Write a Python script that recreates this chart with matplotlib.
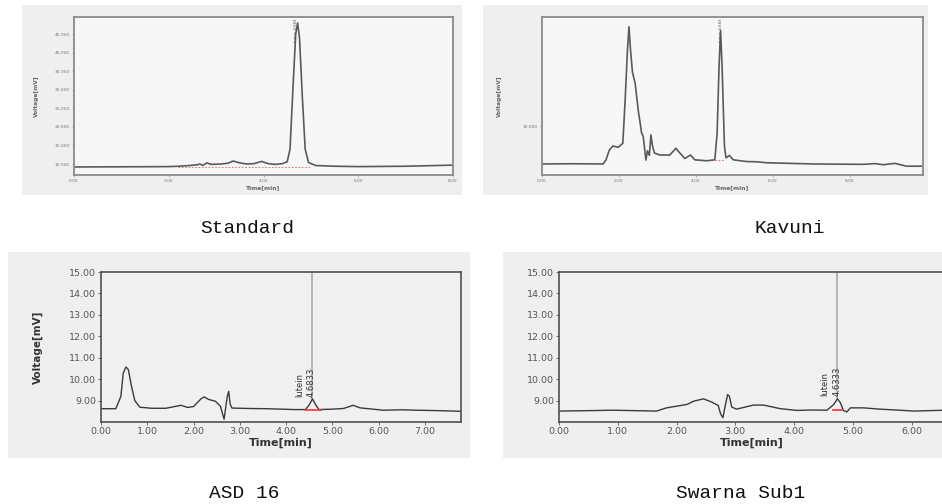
import matplotlib
matplotlib.use("Agg")
import matplotlib.pyplot as plt
from matplotlib.patches import Rectangle

# ---------------- data ----------------
std_time = [0.0, 1.0, 2.0, 2.2, 2.45, 2.6, 2.66, 2.72, 2.8, 2.9, 3.1, 3.25, 3.36, 3.5, 3.65,
            3.8, 3.96, 4.1, 4.25, 4.4, 4.5, 4.56, 4.62, 4.68, 4.72, 4.76, 4.82, 4.88, 4.95,
            5.1, 5.5, 6.0, 6.5, 7.0, 7.5, 8.0]
std_volt = [9.2, 9.25, 9.3, 9.4, 9.6, 9.8, 10.0, 9.6, 10.3, 9.9, 10.0, 10.2, 10.8, 10.3, 10.0,
            10.1, 10.7, 10.1, 9.9, 10.1, 10.6, 14.0, 30.0, 45.0, 48.0, 44.0, 28.0, 14.0, 10.4,
            9.6, 9.4, 9.3, 9.35, 9.4, 9.55, 9.7]
std_ticks = [10, 15, 20, 25, 30, 35, 40, 45]

kav_time = [0.0, 0.8, 1.59, 1.66, 1.75, 1.84, 1.98, 2.1, 2.16, 2.22, 2.26, 2.3, 2.35, 2.42,
            2.5, 2.59, 2.63, 2.68, 2.7, 2.74, 2.79, 2.83, 2.87, 2.92, 3.06, 3.32, 3.48, 3.58,
            3.71, 3.86, 3.97, 4.28, 4.49, 4.55, 4.6, 4.64, 4.68, 4.74, 4.78, 4.87, 4.97, 5.31,
            5.57, 5.84, 7.05, 8.35, 8.65, 8.87, 9.17, 9.47, 9.86]
kav_volt = [6.9, 6.92, 6.9, 7.22, 8.04, 8.37, 8.26, 8.59, 12.1, 16.2, 18.1, 16.2, 14.4, 13.5,
            11.3, 9.4, 9.15, 7.77, 7.22, 7.98, 7.6, 9.27, 8.4, 7.8, 7.63, 7.63, 8.18, 7.8,
            7.35, 7.63, 7.24, 7.16, 7.24, 9.4, 14.8, 17.8, 14.8, 8.4, 7.4, 7.6, 7.24, 7.1,
            7.08, 7.0, 6.9, 6.87, 6.93, 6.84, 6.95, 6.72, 6.72]
kav_ticks = [10]

asd_time = [0.0, 0.32, 0.43, 0.48, 0.54, 0.59, 0.66, 0.73, 0.84, 1.1, 1.4, 1.73, 1.87, 2.0,
            2.16, 2.23, 2.33, 2.47, 2.58, 2.63, 2.66, 2.69, 2.73, 2.76, 2.79, 2.83, 3.2, 3.59,
            3.9, 4.17, 4.42, 4.5, 4.57, 4.64, 4.71, 5.0, 5.24, 5.45, 5.6, 6.1, 6.5, 6.82, 7.3, 7.76]
asd_volt = [8.62, 8.62, 9.2, 10.28, 10.57, 10.45, 9.66, 9.0, 8.69, 8.64, 8.64, 8.78, 8.68, 8.72,
            9.08, 9.17, 9.05, 8.97, 8.74, 8.36, 8.13, 8.6, 9.2, 9.43, 8.85, 8.65, 8.63, 8.62,
            8.6, 8.58, 8.58, 8.8, 9.08, 8.8, 8.58, 8.6, 8.63, 8.78, 8.66, 8.55, 8.57, 8.55, 8.53, 8.5]

swa_time = [0.0, 0.5, 0.93, 1.3, 1.66, 1.83, 2.18, 2.29, 2.46, 2.6, 2.71, 2.75, 2.79, 2.83,
            2.87, 2.9, 2.94, 3.02, 3.31, 3.48, 3.77, 4.05, 4.3, 4.56, 4.67, 4.74, 4.79, 4.84,
            4.9, 4.96, 5.18, 5.46, 5.8, 6.04, 6.3, 6.55]
swa_volt = [8.51, 8.53, 8.55, 8.53, 8.51, 8.66, 8.82, 8.97, 9.08, 8.93, 8.77, 8.38, 8.2, 8.77,
            9.28, 9.2, 8.7, 8.6, 8.79, 8.79, 8.62, 8.54, 8.56, 8.55, 8.8, 9.08, 8.9, 8.54,
            8.47, 8.66, 8.66, 8.6, 8.55, 8.51, 8.53, 8.55]
bottom_ticks_y = [9, 10, 11, 12, 13, 14, 15]

captions = ["Standard", "Kavuni", "ASD 16", "Swarna Sub1"]
peak_name = "lutein"
asd_peak_label = "4.6833"
swa_peak_label = "4.6333"
asd_peak_t = 4.57
swa_peak_t = 4.74

# ---------------- figure ----------------
W, H = 942, 504
fig = plt.figure(figsize=(W / 100, H / 100), dpi=100)
fig.patch.set_facecolor("white")


def fx(px):
    return px / W


def fy(py):
    return 1 - py / H


def bg(x0, x1, y0, y1, color="#efefef"):
    fig.patches.append(Rectangle((fx(x0), fy(y1)), fx(x1) - fx(x0), fy(y0) - fy(y1),
                                 transform=fig.transFigure, facecolor=color,
                                 edgecolor="none", zorder=-10))


def add_axes(x0, x1, y0, y1):
    a = fig.add_axes([fx(x0), fy(y1), fx(x1) - fx(x0), fy(y0) - fy(y1)])
    a.set_zorder(5)
    return a


# backgrounds
bg(22, 462, 5, 195)
bg(483, 928, 5, 195)
bg(8, 470, 252, 458)
bg(503, 943, 252, 458)

# ---- Standard ----
ax1 = add_axes(74, 453, 17, 175)
ax1.set_facecolor("#f7f7f7")
ax1.plot(std_time, std_volt, color="#5a5a5a", lw=1.2)
ax1.plot([2.2, 5.0], [9.2, 9.2], color="#e06060", lw=0.6, ls=(0, (2, 2)))
ax1.set_xlim(0, 8)
ax1.set_ylim(7.04, 49.6)
ax1.set_xticks([0, 2, 4, 6, 8])
ax1.set_xticklabels(["0.00", "2.00", "4.00", "6.00", "8.00"])
ax1.set_yticks(std_ticks)
ax1.set_yticklabels([f"{v:.3f}" for v in std_ticks])
ax1.text(4.68, 49.2, peak_name + " 4.683", rotation=90, ha="center", va="top",
         fontsize=2.8, color="#555555")
ax1.set_ylabel("Voltage[mV]", fontsize=4.2, fontweight="bold", color="#666666", labelpad=11)
ax1.set_xlabel("Time[min]", fontsize=4.2, fontweight="bold", color="#666666", labelpad=1.5)

# ---- Kavuni ----
ax2 = add_axes(542, 923, 17, 175)
ax2.set_facecolor("#f7f7f7")
ax2.plot(kav_time, kav_volt, color="#5a5a5a", lw=1.2)
ax2.plot([4.5, 4.75], [7.2, 7.2], color="#e06060", lw=0.6, ls=(0, (2, 2)))
ax2.set_xlim(0, 9.9)
ax2.set_ylim(6.0, 18.9)
ax2.set_xticks([0, 2, 4, 6, 8])
ax2.set_xticklabels(["0.00", "2.00", "4.00", "6.00", "8.00"])
ax2.set_yticks(kav_ticks)
ax2.set_yticklabels(["10.000"])
ax2.text(4.64, 18.8, peak_name + " 4.683", rotation=90, ha="center", va="top",
         fontsize=2.8, color="#555555")
ax2.set_ylabel("Voltage[mV]", fontsize=4.2, fontweight="bold", color="#666666", labelpad=15)
ax2.set_xlabel("Time[min]", fontsize=4.2, fontweight="bold", color="#666666", labelpad=1.5)

for ax in (ax1, ax2):
    for s in ax.spines.values():
        s.set_color("#8a8a8a")
        s.set_linewidth(1.3)
    ax.tick_params(length=1.5, width=0.5, color="#999999", pad=1.5)
    for lab in ax.get_xticklabels() + ax.get_yticklabels():
        lab.set_fontsize(3.2)
        lab.set_color("#777777")

# ---- ASD 16 ----
ax3 = add_axes(101, 461, 272, 422)
ax3.set_facecolor("#f0f0f0")
ax3.axvline(asd_peak_t, ymin=(9.1 - 8.0) / 7.0, ymax=1, color="#b5b5b5", lw=1.4, zorder=1)
ax3.plot(asd_time, asd_volt, color="#3a3a3a", lw=1.0, zorder=2)
ax3.plot([4.42, 4.75], [8.58, 8.58], color="#ff3030", lw=1.2, zorder=3)
ax3.set_xlim(0, 7.78)
ax3.set_ylim(8.0, 14.95)
ax3.set_xticks([0, 1, 2, 3, 4, 5, 6, 7])
ax3.set_xticklabels([f"{v:.2f}" for v in range(8)])
ax3.text(asd_peak_t - 0.28, 9.18, peak_name, rotation=90, ha="center", va="bottom",
         fontsize=6, color="#333333", family="Liberation Sans Narrow")
ax3.text(asd_peak_t - 0.02, 9.18, asd_peak_label, rotation=90, ha="center", va="bottom",
         fontsize=6, color="#333333", family="Liberation Sans Narrow")
ax3.set_ylabel("Voltage[mV]", fontsize=7.5, fontweight="bold", color="#333333", labelpad=19)
ax3.set_xlabel("Time[min]", fontsize=8, fontweight="bold", color="#333333", labelpad=1)

# ---- Swarna Sub1 ----
ax4 = add_axes(559, 945, 272, 422)
ax4.set_facecolor("#f0f0f0")
ax4.axvline(swa_peak_t, ymin=(9.1 - 8.0) / 7.0, ymax=1, color="#b5b5b5", lw=1.4, zorder=1)
ax4.plot(swa_time, swa_volt, color="#3a3a3a", lw=1.0, zorder=2)
ax4.plot([4.66, 4.82], [8.55, 8.55], color="#ff3030", lw=1.2, zorder=3)
ax4.set_xlim(0, 6.57)
ax4.set_ylim(8.0, 14.95)
ax4.set_xticks([0, 1, 2, 3, 4, 5, 6])
ax4.set_xticklabels([f"{v:.2f}" for v in range(7)])
ax4.text(swa_peak_t - 0.22, 9.2, peak_name, rotation=90, ha="center", va="bottom",
         fontsize=6, color="#333333", family="Liberation Sans Narrow")
ax4.text(swa_peak_t - 0.01, 9.2, swa_peak_label, rotation=90, ha="center", va="bottom",
         fontsize=6, color="#333333", family="Liberation Sans Narrow")
ax4.set_xlabel("Time[min]", fontsize=8, fontweight="bold", color="#333333", labelpad=1)

for ax in (ax3, ax4):
    ax.set_yticks(bottom_ticks_y)
    ax.set_yticklabels([f"{v:.2f}" for v in bottom_ticks_y])
    for s in ax.spines.values():
        s.set_color("#505050")
        s.set_linewidth(1.2)
    ax.tick_params(length=2, width=0.6, color="#555555", pad=1.5, labelsize=6.8,
                   labelcolor="#555555")
ax4.spines["right"].set_visible(False)

# ---- captions ----
cap_pos = [(247, 229), (790, 229), (244, 493), (741, 493)]
for text, (cx, cy) in zip(captions, cap_pos):
    fig.text(fx(cx), fy(cy), text, ha="center", va="center", fontsize=14,
             family="Liberation Mono", color="#111111")

fig.savefig("out.png", dpi=100)
